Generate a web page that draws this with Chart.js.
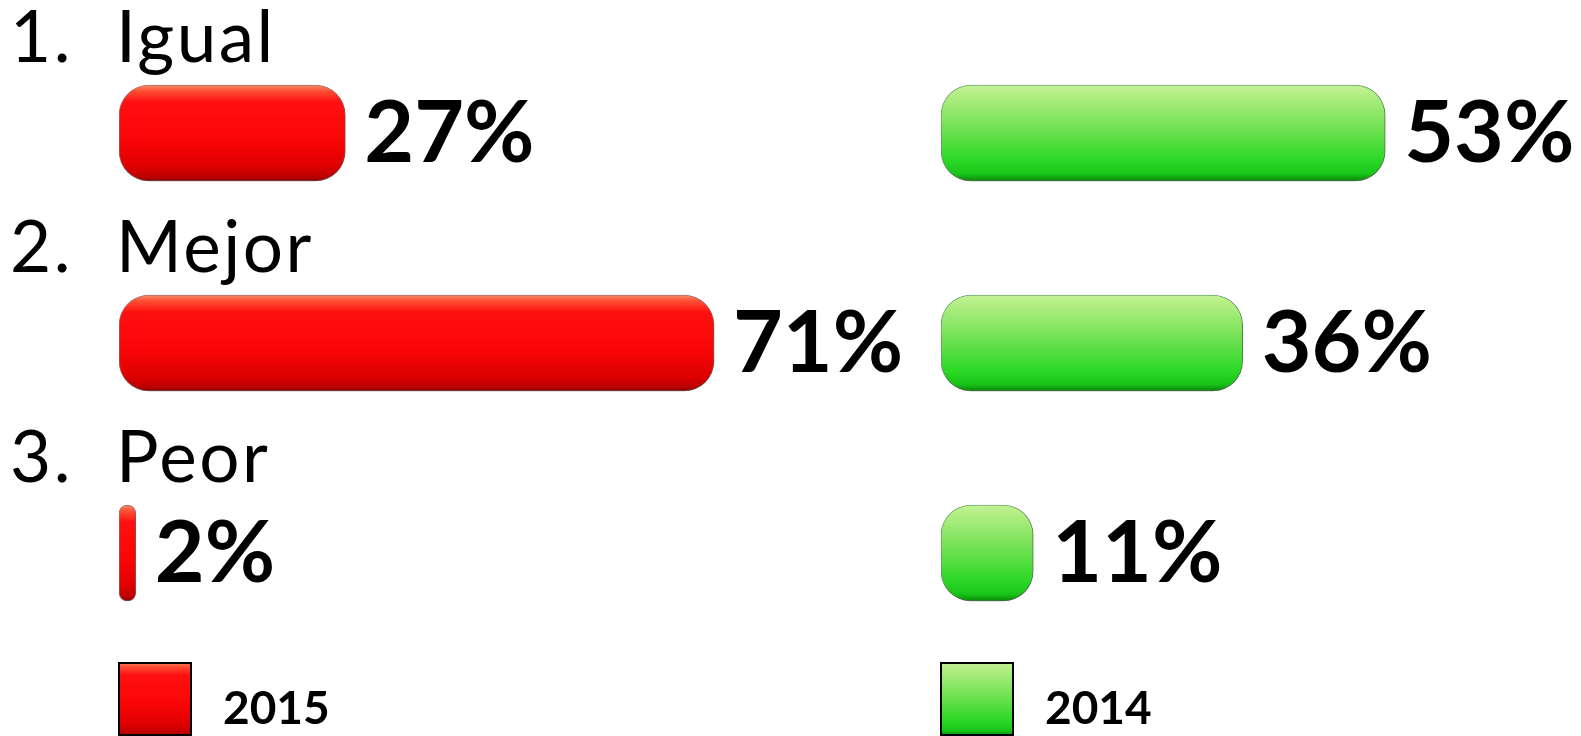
<!DOCTYPE html>
<html>
<head>
<meta charset="utf-8">
<script src="https://cdn.jsdelivr.net/npm/chart.js@4/dist/chart.umd.min.js"></script>
<style>
  html, body { margin: 0; padding: 0; background: #ffffff; overflow: hidden; }
  body { width: 1581px; height: 736px; position: relative; }
  .panel { position: absolute; top: 0; height: 736px; }
  #left { left: 0; width: 930px; }
  #right { left: 930px; width: 651px; }
</style>
</head>
<body>
<div class="panel" id="left"><canvas id="c2015"></canvas></div>
<div class="panel" id="right"><canvas id="c2014"></canvas></div>
<script>
// ---- data ----
const categories = ['Igual', 'Mejor', 'Peor'];
const values2015 = [27, 71, 2];
const values2014 = [53, 36, 11];
const seriesNames = ['2015', '2014'];

// ---- styling ----
const FONT = 'Lato, "Open Sans", sans-serif';
const PX_PER_PCT = 8.38;
const BAR_H = 96;

const redStops = [[0, '#f2906a'], [0.06, '#ff5034'], [0.18, '#ff1010'], [0.55, '#fb0606'], [0.85, '#de0000'], [0.96, '#bb0000'], [1, '#8a0000']];
const greenStops = [[0, '#c4f296'], [0.08, '#b6ef86'], [0.4, '#7be35a'], [0.78, '#2dd826'], [0.93, '#18c418'], [1, '#0a860a']];

function grad(ctx, top, bottom, stops) {
  const g = ctx.createLinearGradient(0, top, 0, bottom);
  stops.forEach(s => g.addColorStop(s[0], s[1]));
  return g;
}

const shadowPlugin = {
  id: 'shadow',
  beforeDatasetDraw(chart) {
    const c = chart.ctx;
    c.save();
    c.shadowColor = 'rgba(0,0,0,0.45)';
    c.shadowBlur = 8;
    c.shadowOffsetX = 2;
    c.shadowOffsetY = 5;
  },
  afterDatasetDraw(chart) { chart.ctx.restore(); }
};

const valueLabels = {
  id: 'valueLabels',
  afterDatasetsDraw(chart) {
    const c = chart.ctx;
    const meta = chart.getDatasetMeta(0);
    const data = chart.data.datasets[0].data;
    c.save();
    c.fillStyle = '#000';
    c.font = 'bold 86px ' + FONT;
    c.textAlign = 'left';
    c.textBaseline = 'alphabetic';
    meta.data.forEach((el, i) => {
      c.fillText(data[i] + '%', el.x + 19, el.y + 29);
    });
    c.restore();
  }
};

const categoryLabels = {
  id: 'categoryLabels',
  afterDraw(chart, args, opts) {
    if (!opts.show) return;
    const c = chart.ctx;
    const y = chart.scales.y;
    c.save();
    c.fillStyle = '#000';
    c.font = '71px ' + FONT;
    c.textAlign = 'left';
    c.textBaseline = 'alphabetic';
    try { c.letterSpacing = '2.5px'; } catch (e) {}
    chart.data.labels.forEach((lab, i) => {
      const py = y.getPixelForValue(i) - 71;
      c.fillText((i + 1) + '.', 10, py);
      c.fillText(lab, 116, py);
    });
    c.restore();
  }
};

const legendBox = {
  id: 'legendBox',
  afterDraw(chart, args, opts) {
    const c = chart.ctx;
    const x = chart.chartArea.left - 1;
    const top = 662, size = 74;
    c.save();
    c.fillStyle = grad(c, top, top + size, opts.stops);
    c.fillRect(x, top, size, size);
    c.lineWidth = 2;
    c.strokeStyle = '#000';
    c.strokeRect(x + 1, top + 1, size - 2, size - 2);
    c.fillStyle = '#000';
    c.font = 'bold 46px ' + FONT;
    c.textAlign = 'left';
    c.textBaseline = 'alphabetic';
    c.fillText(chart.data.datasets[0].label, x + 105, 724);
    c.restore();
  }
};

function makeChart(id, values, name, stops, border, padLeft, width, showCats) {
  const areaW = width - padLeft;
  return new Chart(document.getElementById(id), {
    type: 'bar',
    data: {
      labels: categories,
      datasets: [{
        label: name,
        data: values,
        backgroundColor: (ctx) => {
          const fallback = stops[3][1];
          if (ctx.type !== 'data') return fallback;
          const ch = ctx.chart;
          const ys = ch.scales && ch.scales.y;
          if (!ys) return fallback;
          const cy = ys.getPixelForValue(ctx.dataIndex);
          if (!isFinite(cy)) return fallback;
          return grad(ch.ctx, cy - BAR_H / 2, cy + BAR_H / 2, stops);
        },
        borderColor: border,
        borderWidth: 1,
        borderSkipped: false,
        borderRadius: 30,
        barThickness: BAR_H
      }]
    },
    options: {
      indexAxis: 'y',
      responsive: false,
      animation: false,
      devicePixelRatio: 1,
      layout: { padding: { left: padLeft, right: 0, top: 28, bottom: 78 } },
      scales: {
        x: { display: false, min: 0, max: areaW / PX_PER_PCT, grid: { display: false } },
        y: { display: false, offset: true, grid: { display: false } }
      },
      plugins: {
        legend: { display: false },
        tooltip: { enabled: false },
        categoryLabels: { show: showCats },
        legendBox: { stops: stops }
      }
    },
    plugins: [shadowPlugin, valueLabels, categoryLabels, legendBox]
  });
}

function init() {
  const l = document.getElementById('c2015');
  l.width = 930; l.height = 736;
  const r = document.getElementById('c2014');
  r.width = 651; r.height = 736;
  makeChart('c2015', values2015, seriesNames[0], redStops, 'rgba(140,0,0,0.55)', 119, 930, true);
  makeChart('c2014', values2014, seriesNames[1], greenStops, 'rgba(10,120,10,0.55)', 11, 651, false);
}

Promise.all([
  document.fonts.load('71px Lato'),
  document.fonts.load('bold 86px Lato')
]).then(init, init);
</script>
</body>
</html>
